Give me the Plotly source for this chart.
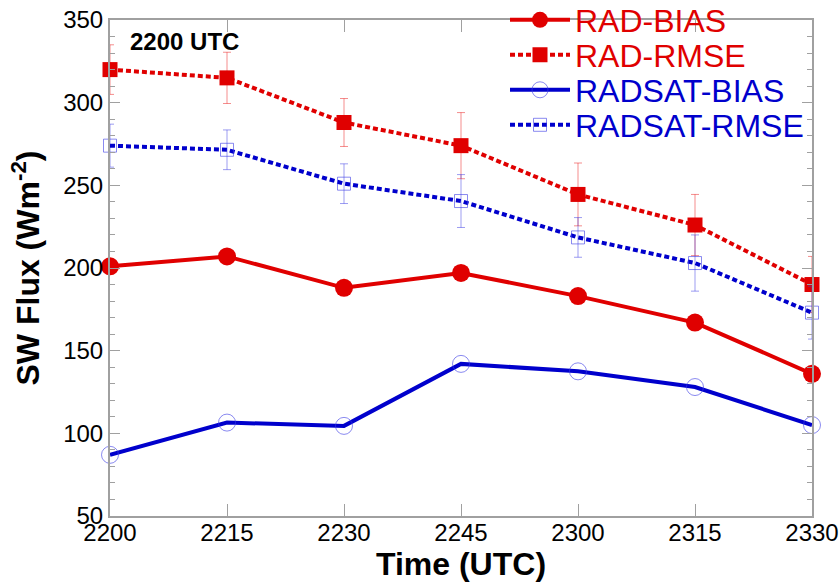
import plotly.graph_objects as go

time_labels = ["2200", "2215", "2230", "2245", "2300", "2315", "2330"]
rad_bias = [201, 207, 188, 197, 183, 167, 136]
rad_rmse = [320, 315, 288, 274, 244.5, 226, 190]
rad_rmse_err = [15, 15.5, 14.5, 20, 19, 18.5, 17]
radsat_bias = [87, 106.5, 104.5, 142, 137.5, 128, 105]
radsat_rmse = [274, 271.5, 251, 240.5, 218.5, 203, 173]
radsat_rmse_err = [13, 12, 12, 16, 12, 17, 16]

RED = "#E00000"
BLUE = "#0000CC"
x = list(range(len(time_labels)))
font = "Liberation Sans, Arial, sans-serif"


def lname(text, color):
    return f"<span style='color:{color}'>{text}</span>"


fig = go.Figure()
fig.add_trace(go.Scatter(
    x=x, y=rad_bias, name=lname("RAD-BIAS", RED), mode="lines+markers",
    line=dict(color=RED, width=4),
    marker=dict(symbol="circle", size=18, color=RED),
    legend="legend", cliponaxis=False))
fig.add_trace(go.Scatter(
    x=x, y=rad_rmse, name=lname("RAD-RMSE", RED), mode="lines+markers",
    line=dict(color=RED, width=4, dash="5px,3px"),
    marker=dict(symbol="square", size=15, color=RED),
    error_y=dict(type="data", array=rad_rmse_err, visible=True,
                 color="rgba(230,0,0,0.45)", thickness=1, width=4),
    legend="legend2", cliponaxis=False))
fig.add_trace(go.Scatter(
    x=x, y=radsat_bias, name=lname("RADSAT-BIAS", BLUE), mode="lines+markers",
    line=dict(color=BLUE, width=4),
    marker=dict(symbol="circle-open", size=17, color="rgba(60,60,230,0.6)",
                line=dict(width=1)),
    legend="legend3", cliponaxis=False))
fig.add_trace(go.Scatter(
    x=x, y=radsat_rmse, name=lname("RADSAT-RMSE", BLUE), mode="lines+markers",
    line=dict(color=BLUE, width=4, dash="5px,3px"),
    marker=dict(symbol="square-open", size=13, color="rgba(60,60,230,0.6)",
                line=dict(width=1)),
    error_y=dict(type="data", array=radsat_rmse_err, visible=True,
                 color="rgba(60,60,230,0.5)", thickness=1, width=4),
    legend="legend4", cliponaxis=False))

fig.add_annotation(x=0.026, y=0.956, xref="paper", yref="paper",
                   text="<b>2200 UTC</b>", showarrow=False,
                   xanchor="left", yanchor="middle",
                   font=dict(family=font, size=24, color="black"))

axis_common = dict(showline=True, linecolor="#A0A0A0", linewidth=2,
                   mirror="ticks", ticks="inside", tickcolor="#A0A0A0",
                   showgrid=False, zeroline=False, automargin=False,
                   tickfont=dict(family=font, size=24, color="black"))

fig.update_xaxes(range=[0, 6], tickvals=x, ticktext=time_labels,
                 ticklen=12, tickwidth=1, ticklabelstandoff=-6,
                 title=dict(text="<b>Time (UTC)</b>", standoff=0,
                            font=dict(family=font, size=32, color="black")),
                 **axis_common)
fig.update_yaxes(range=[50, 350], dtick=50, ticklen=10, tickwidth=1,
                 minor=dict(dtick=10, ticks="inside", ticklen=5,
                            tickcolor="#A0A0A0", tickwidth=1),
                 title=dict(text="<b>SW Flux (Wm<sup>-2</sup>)</b>", standoff=14,
                            font=dict(family=font, size=32, color="black")),
                 **axis_common)

legend_rows = [20, 55, 90, 125]  # row centres, px from top
legends = {}
for i, row in enumerate(legend_rows):
    key = "legend" if i == 0 else f"legend{i + 1}"
    legends[key] = dict(xref="container", yref="container",
                        x=505 / 840, y=1 - row / 583,
                        xanchor="left", yanchor="middle",
                        bgcolor="rgba(0,0,0,0)", itemwidth=60,
                        font=dict(family=font, size=32))

fig.update_layout(
    width=840, height=583,
    margin=dict(l=110, r=28, t=20, b=67, autoexpand=False),
    plot_bgcolor="white", paper_bgcolor="white",
    font=dict(family=font),
    showlegend=True,
    **legends,
)

fig.write_html("out.html",
               config={"displayModeBar": False},
               post_script="document.body.style.margin='0';document.body.style.overflow='hidden';")
